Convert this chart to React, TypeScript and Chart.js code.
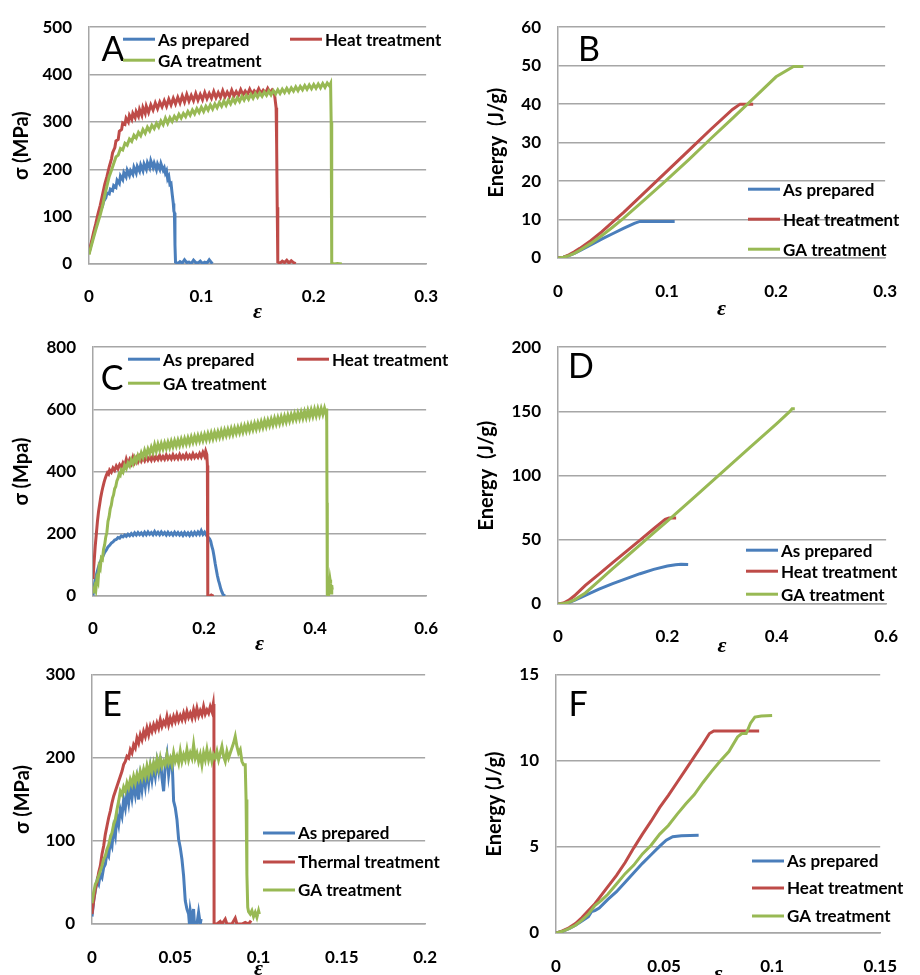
import { useEffect, useRef } from 'react';
import { Chart, registerables } from 'chart.js';
Chart.register(...registerables);

type Pt = [number, number];

const BLUE = '#4a7ebb';
const RED = '#be4b48';
const GREEN = '#98b954';
const GRID = '#a6a6a6';

const labelsABCD = ['As prepared', 'Heat treatment', 'GA treatment'];
const labelsE = ['As prepared', 'Thermal treatment', 'GA treatment'];

// ---------- Panel A : stress (MPa) vs strain ----------
const A_prepared: Pt[] = [
  [0,25],[0.002,42],[0.004,60],[0.006,82],[0.008,95],[0.010,112],[0.012,122],[0.013,132],[0.015,140],[0.016,150],[0.018,148],[0.019,158],[0.021,155],[0.022,166],[0.024,162],[0.025,177],[0.027,170],[0.028,186],[0.030,178],[0.031,193],[0.033,184],[0.034,198],[0.036,187],[0.037,197],[0.039,189],[0.040,204],[0.042,192],[0.043,206],[0.045,196],[0.046,209],[0.048,197],[0.049,211],[0.051,200],[0.052,214],[0.054,203],[0.055,218],[0.057,204],[0.058,213],[0.060,199],[0.061,211],[0.063,200],[0.064,212],[0.066,198],[0.067,203],[0.068,192],[0.069,197],[0.070,180],[0.071,185],[0.072,168],[0.073,170],[0.074,148],[0.075,128],[0.0755,112],[0.076,108],[0.0765,40],[0.077,4],[0.079,1],[0.081,5],[0.083,2],[0.085,9],[0.087,3],[0.089,4],[0.091,1],[0.093,8],[0.095,3],[0.097,2],[0.099,6],[0.101,1],[0.103,4],[0.105,2],[0.107,9],[0.109,3],[0.110,5]
];
const A_heat: Pt[] = [
  [0,22],[0.002,45],[0.004,66],[0.006,85],[0.008,106],[0.010,124],[0.012,146],[0.014,168],[0.016,185],[0.018,205],[0.020,222],[0.021,235],[0.023,246],[0.024,260],[0.026,263],[0.027,280],[0.029,284],[0.030,298],[0.032,295],[0.033,308],[0.035,300],[0.036,314],[0.038,305],[0.039,318],[0.041,309],[0.042,322],[0.044,312],[0.045,326],[0.047,314],[0.048,330],[0.050,318],[0.051,333],[0.053,320],[0.055,336],[0.057,325],[0.059,340],[0.061,328],[0.063,342],[0.065,332],[0.067,345],[0.069,333],[0.071,348],[0.073,336],[0.075,350],[0.077,338],[0.079,352],[0.081,340],[0.083,355],[0.085,342],[0.087,358],[0.089,344],[0.091,356],[0.093,345],[0.095,360],[0.097,346],[0.099,358],[0.101,347],[0.103,362],[0.105,349],[0.107,360],[0.109,350],[0.111,364],[0.113,351],[0.115,362],[0.117,352],[0.119,366],[0.121,353],[0.123,363],[0.125,354],[0.127,367],[0.129,355],[0.131,364],[0.133,356],[0.135,368],[0.137,357],[0.139,365],[0.141,358],[0.143,369],[0.145,359],[0.147,366],[0.149,360],[0.151,370],[0.153,360],[0.155,367],[0.157,361],[0.159,371],[0.161,362],[0.163,368],[0.1645,364],[0.165,360],[0.166,340],[0.1665,330],[0.167,250],[0.1675,120],[0.168,4],[0.170,2],[0.172,6],[0.174,3],[0.176,8],[0.178,2],[0.180,7],[0.182,3],[0.184,1]
];
const A_ga: Pt[] = [
  [0,20],[0.002,38],[0.004,55],[0.006,72],[0.008,88],[0.010,104],[0.012,122],[0.014,145],[0.016,165],[0.018,185],[0.020,198],[0.022,212],[0.024,226],[0.026,230],[0.028,244],[0.030,241],[0.032,255],[0.034,251],[0.036,264],[0.038,259],[0.040,272],[0.042,266],[0.044,278],[0.046,271],[0.048,284],[0.050,276],[0.052,289],[0.054,281],[0.056,293],[0.058,286],[0.060,297],[0.062,289],[0.064,302],[0.066,294],[0.068,308],[0.070,297],[0.072,309],[0.074,301],[0.076,312],[0.078,305],[0.080,316],[0.082,308],[0.084,318],[0.086,311],[0.088,322],[0.090,314],[0.092,325],[0.094,317],[0.096,328],[0.098,320],[0.100,331],[0.102,322],[0.104,333],[0.106,325],[0.108,336],[0.110,327],[0.112,338],[0.114,330],[0.116,341],[0.118,333],[0.120,344],[0.122,335],[0.124,346],[0.126,338],[0.128,349],[0.130,341],[0.132,351],[0.134,343],[0.136,354],[0.138,346],[0.140,356],[0.142,348],[0.144,358],[0.146,350],[0.148,360],[0.150,352],[0.152,361],[0.154,354],[0.156,363],[0.158,356],[0.160,365],[0.162,357],[0.164,366],[0.166,359],[0.168,368],[0.170,360],[0.172,369],[0.174,362],[0.176,371],[0.178,363],[0.180,372],[0.182,365],[0.184,374],[0.186,366],[0.188,375],[0.190,368],[0.192,377],[0.194,369],[0.196,378],[0.198,370],[0.200,379],[0.202,371],[0.204,380],[0.206,372],[0.208,381],[0.210,373],[0.212,382],[0.214,376],[0.215,381],[0.2155,300],[0.216,2],[0.218,0],[0.221,1],[0.225,0]
];

// ---------- Panel B : energy (J/g) vs strain ----------
const B_prepared: Pt[] = [[0,0],[0.005,0.2],[0.010,0.6],[0.015,1.2],[0.020,1.9],[0.030,3.4],[0.040,4.9],[0.050,6.3],[0.060,7.7],[0.070,9.0],[0.075,9.5],[0.090,9.5],[0.107,9.5]];
const B_heat: Pt[] = [[0,0],[0.005,0.2],[0.010,0.8],[0.015,1.6],[0.020,2.5],[0.030,4.5],[0.040,6.8],[0.050,9.3],[0.060,11.8],[0.080,17.2],[0.100,22.6],[0.120,28.0],[0.140,33.4],[0.160,38.6],[0.167,40.0],[0.179,40.0]];
const B_ga: Pt[] = [[0,0],[0.005,0.2],[0.010,0.6],[0.015,1.2],[0.020,2.0],[0.030,3.8],[0.040,5.8],[0.050,8.0],[0.060,10.3],[0.080,15.3],[0.100,20.4],[0.120,25.6],[0.140,31.0],[0.160,36.3],[0.180,41.7],[0.200,47.1],[0.216,49.8],[0.225,49.8]];

// ---------- Panel C : stress (MPa) vs strain ----------
const C_prepared: Pt[] = [
  [0,2],[0.003,40],[0.006,68],[0.009,88],[0.012,105],[0.015,118],[0.018,128],[0.021,140],[0.024,148],[0.027,158],[0.030,163],[0.033,170],[0.036,174],[0.039,180],[0.042,182],[0.045,188],[0.048,186],[0.051,193],[0.054,190],[0.057,196],[0.060,192],[0.063,199],[0.066,194],[0.069,201],[0.072,195],[0.075,203],[0.078,196],[0.081,204],[0.084,197],[0.087,203],[0.090,196],[0.093,205],[0.096,197],[0.099,206],[0.102,198],[0.105,204],[0.108,197],[0.111,207],[0.114,198],[0.117,205],[0.120,197],[0.123,206],[0.126,198],[0.129,204],[0.132,196],[0.135,205],[0.138,197],[0.141,203],[0.144,196],[0.147,205],[0.150,197],[0.153,204],[0.156,196],[0.159,203],[0.162,195],[0.165,204],[0.168,196],[0.171,203],[0.174,195],[0.177,204],[0.180,196],[0.183,205],[0.186,197],[0.189,206],[0.192,198],[0.195,210],[0.198,198],[0.201,205],[0.204,196],[0.207,190],[0.210,184],[0.212,176],[0.214,160],[0.216,148],[0.218,128],[0.220,105],[0.222,85],[0.224,66],[0.226,50],[0.228,38],[0.230,24],[0.232,14],[0.234,6],[0.236,2],[0.238,0]
];
const C_heat: Pt[] = [
  [0,55],[0.002,110],[0.004,160],[0.006,200],[0.008,240],[0.010,272],[0.012,295],[0.014,318],[0.016,336],[0.018,352],[0.020,366],[0.022,378],[0.024,388],[0.026,396],[0.028,392],[0.030,405],[0.033,398],[0.036,412],[0.039,404],[0.042,418],[0.045,409],[0.048,422],[0.051,414],[0.054,428],[0.057,418],[0.060,440],[0.063,424],[0.066,438],[0.069,426],[0.072,446],[0.075,430],[0.078,444],[0.081,432],[0.084,447],[0.087,434],[0.090,445],[0.093,435],[0.096,449],[0.099,437],[0.102,447],[0.105,437],[0.108,451],[0.111,438],[0.114,448],[0.117,439],[0.120,452],[0.123,440],[0.126,449],[0.129,440],[0.132,453],[0.135,441],[0.138,450],[0.141,441],[0.144,454],[0.147,442],[0.150,451],[0.153,442],[0.156,455],[0.159,443],[0.162,452],[0.165,443],[0.168,456],[0.171,444],[0.174,453],[0.177,444],[0.180,457],[0.183,445],[0.186,454],[0.189,446],[0.192,458],[0.195,447],[0.198,462],[0.201,450],[0.203,466],[0.205,455],[0.206,420],[0.2065,200],[0.207,2],[0.210,0],[0.213,3],[0.216,0],[0.218,1]
];
const C_ga: Pt[] = [
  [0,8],[0.003,30],[0.005,18],[0.007,55],[0.009,45],[0.011,95],[0.013,88],[0.015,122],[0.017,118],[0.019,150],[0.021,165],[0.023,190],[0.025,205],[0.027,240],[0.029,255],[0.031,280],[0.033,292],[0.035,315],[0.037,325],[0.039,345],[0.041,352],[0.043,370],[0.045,378],[0.047,392],[0.049,388],[0.051,405],[0.054,398],[0.057,420],[0.060,410],[0.063,428],[0.066,418],[0.069,438],[0.072,425],[0.075,445],[0.078,432],[0.081,452],[0.084,440],[0.087,460],[0.090,446],[0.093,468],[0.096,452],[0.099,472],[0.102,458],[0.105,478],[0.108,462],[0.111,486],[0.114,466],[0.117,488],[0.120,470],[0.123,490],[0.126,473],[0.129,492],[0.132,475],[0.135,494],[0.138,477],[0.141,497],[0.144,480],[0.147,499],[0.150,482],[0.153,501],[0.156,484],[0.159,504],[0.162,487],[0.165,506],[0.168,489],[0.171,508],[0.174,491],[0.177,511],[0.180,494],[0.183,513],[0.186,496],[0.189,515],[0.192,498],[0.195,517],[0.198,500],[0.201,519],[0.204,502],[0.207,522],[0.210,504],[0.213,524],[0.216,506],[0.219,526],[0.222,509],[0.225,528],[0.228,511],[0.231,531],[0.234,513],[0.237,533],[0.240,516],[0.243,535],[0.246,518],[0.249,538],[0.252,520],[0.255,540],[0.258,523],[0.261,542],[0.264,525],[0.267,545],[0.270,527],[0.273,547],[0.276,530],[0.279,550],[0.282,532],[0.285,552],[0.288,535],[0.291,555],[0.294,537],[0.297,557],[0.300,540],[0.303,560],[0.306,542],[0.309,563],[0.312,545],[0.315,565],[0.318,548],[0.321,568],[0.324,550],[0.327,571],[0.330,553],[0.333,573],[0.336,555],[0.339,576],[0.342,558],[0.345,578],[0.348,560],[0.351,581],[0.354,563],[0.357,583],[0.360,566],[0.363,586],[0.366,568],[0.369,588],[0.372,570],[0.375,591],[0.378,572],[0.381,593],[0.384,574],[0.387,596],[0.390,576],[0.393,598],[0.396,578],[0.399,600],[0.402,580],[0.405,602],[0.408,582],[0.411,603],[0.414,584],[0.417,604],[0.419,590],[0.420,603],[0.421,560],[0.4215,300],[0.422,5],[0.424,0],[0.426,30],[0.427,52],[0.428,40],[0.429,10],[0.430,35],[0.431,20]
];

// ---------- Panel D : energy (J/g) vs strain ----------
const D_prepared: Pt[] = [[0,0],[0.01,0.3],[0.02,1.2],[0.03,2.8],[0.05,6.8],[0.075,11.5],[0.10,15.8],[0.125,19.8],[0.15,23.6],[0.175,27.0],[0.20,29.6],[0.215,30.6],[0.225,31.0],[0.238,30.8]];
const D_heat: Pt[] = [[0,0],[0.01,0.8],[0.02,3.0],[0.03,6.4],[0.05,14.5],[0.075,23.3],[0.10,32.2],[0.125,41.0],[0.15,49.8],[0.175,58.6],[0.196,66.0],[0.203,67.0],[0.216,67.0]];
const D_ga: Pt[] = [[0,0],[0.01,0.4],[0.02,1.4],[0.03,3.2],[0.05,8.6],[0.075,18.0],[0.10,27.5],[0.125,36.8],[0.15,46.0],[0.175,55.3],[0.20,64.6],[0.25,83.5],[0.30,102.5],[0.35,121.5],[0.40,140.5],[0.424,150],[0.428,152],[0.433,152]];

// ---------- Panel E : stress (MPa) vs strain ----------
const E_prepared: Pt[] = [
  [0,9],[0.001,28],[0.002,40],[0.003,52],[0.004,48],[0.005,60],[0.006,56],[0.007,68],[0.008,72],[0.009,86],[0.010,82],[0.011,100],[0.012,94],[0.013,115],[0.014,106],[0.015,130],[0.016,120],[0.017,138],[0.018,130],[0.019,150],[0.020,140],[0.021,158],[0.022,146],[0.023,165],[0.024,152],[0.025,168],[0.026,156],[0.027,172],[0.028,150],[0.029,176],[0.030,162],[0.031,180],[0.032,166],[0.033,184],[0.034,170],[0.035,188],[0.036,174],[0.037,190],[0.038,178],[0.039,196],[0.040,184],[0.041,202],[0.042,176],[0.043,160],[0.044,192],[0.045,204],[0.046,180],[0.047,196],[0.048,200],[0.0485,176],[0.049,148],[0.050,140],[0.051,126],[0.052,102],[0.053,92],[0.054,78],[0.055,58],[0.056,28],[0.057,18],[0.058,12],[0.0585,0],[0.059,16],[0.060,4],[0.061,18],[0.0615,0],[0.063,0],[0.064,14],[0.065,0],[0.0655,6]
];
const E_thermal: Pt[] = [
  [0,12],[0.001,28],[0.002,42],[0.003,50],[0.004,62],[0.005,70],[0.006,84],[0.007,94],[0.008,108],[0.009,118],[0.010,128],[0.011,136],[0.012,146],[0.013,154],[0.014,160],[0.015,166],[0.016,172],[0.017,178],[0.018,184],[0.019,192],[0.020,196],[0.021,202],[0.022,200],[0.023,210],[0.024,206],[0.025,216],[0.026,212],[0.027,224],[0.028,218],[0.029,228],[0.030,222],[0.031,232],[0.032,226],[0.033,236],[0.034,228],[0.035,238],[0.036,232],[0.037,240],[0.038,234],[0.039,242],[0.040,236],[0.041,246],[0.042,238],[0.043,244],[0.044,240],[0.045,250],[0.046,240],[0.047,248],[0.048,242],[0.049,250],[0.050,244],[0.051,252],[0.052,245],[0.053,251],[0.054,246],[0.055,254],[0.056,247],[0.057,256],[0.058,249],[0.059,254],[0.060,248],[0.061,258],[0.062,250],[0.063,260],[0.064,251],[0.065,257],[0.066,252],[0.067,262],[0.068,253],[0.069,258],[0.070,254],[0.071,262],[0.072,256],[0.0728,265],[0.0732,250],[0.0733,0],[0.075,0],[0.077,3],[0.078,0],[0.080,6],[0.081,0],[0.084,0],[0.086,7],[0.087,0],[0.090,0],[0.092,2],[0.094,0],[0.0955,4]
];
const E_ga: Pt[] = [
  [0,25],[0.001,38],[0.002,48],[0.003,52],[0.004,58],[0.005,64],[0.006,70],[0.007,78],[0.008,82],[0.009,90],[0.010,95],[0.011,104],[0.012,110],[0.013,120],[0.014,126],[0.015,138],[0.016,148],[0.017,160],[0.018,156],[0.019,165],[0.020,160],[0.021,170],[0.022,164],[0.023,174],[0.024,168],[0.025,178],[0.026,170],[0.027,180],[0.028,174],[0.029,184],[0.030,176],[0.031,186],[0.032,178],[0.033,190],[0.034,180],[0.035,192],[0.036,184],[0.037,194],[0.038,186],[0.039,198],[0.040,188],[0.041,200],[0.042,190],[0.043,196],[0.044,192],[0.045,204],[0.046,194],[0.047,200],[0.048,192],[0.049,206],[0.050,196],[0.051,202],[0.052,194],[0.053,208],[0.054,196],[0.055,204],[0.056,198],[0.057,210],[0.058,198],[0.059,206],[0.060,200],[0.061,216],[0.062,200],[0.063,206],[0.064,196],[0.065,204],[0.066,192],[0.067,206],[0.068,198],[0.069,210],[0.070,198],[0.071,206],[0.072,196],[0.073,204],[0.074,200],[0.075,208],[0.076,198],[0.077,206],[0.078,214],[0.079,202],[0.080,196],[0.081,208],[0.082,200],[0.083,206],[0.084,212],[0.085,218],[0.086,226],[0.087,214],[0.088,206],[0.089,210],[0.090,196],[0.091,192],[0.092,192],[0.0925,150],[0.093,60],[0.0935,20],[0.094,15],[0.095,12],[0.096,16],[0.097,9],[0.098,14],[0.099,8],[0.100,16],[0.1005,12]
];

// ---------- Panel F : energy (J/g) vs strain ----------
const F_prepared: Pt[] = [[0,0],[0.003,0.1],[0.006,0.25],[0.009,0.45],[0.012,0.7],[0.015,0.95],[0.0165,1.25],[0.018,1.3],[0.020,1.45],[0.024,1.95],[0.028,2.4],[0.032,2.95],[0.036,3.5],[0.040,4.05],[0.044,4.55],[0.048,5.05],[0.051,5.4],[0.054,5.6],[0.058,5.65],[0.066,5.68]];
const F_heat: Pt[] = [[0,0],[0.003,0.12],[0.006,0.3],[0.009,0.55],[0.012,0.9],[0.015,1.3],[0.018,1.7],[0.021,2.2],[0.024,2.7],[0.028,3.35],[0.032,4.1],[0.036,4.95],[0.040,5.75],[0.044,6.5],[0.048,7.3],[0.052,8.0],[0.056,8.75],[0.060,9.5],[0.064,10.25],[0.068,11.0],[0.071,11.6],[0.073,11.75],[0.080,11.75],[0.094,11.75]];
const F_ga: Pt[] = [[0,0],[0.003,0.1],[0.006,0.25],[0.009,0.45],[0.012,0.75],[0.015,1.1],[0.018,1.6],[0.021,1.9],[0.024,2.25],[0.028,2.85],[0.032,3.45],[0.036,3.95],[0.040,4.6],[0.044,5.1],[0.048,5.75],[0.052,6.25],[0.056,6.9],[0.060,7.5],[0.064,8.05],[0.068,8.75],[0.072,9.4],[0.076,10.0],[0.080,10.55],[0.084,11.4],[0.086,11.6],[0.088,11.6],[0.090,12.2],[0.092,12.55],[0.095,12.62],[0.100,12.65]];

// ---------- layout of the six panels (positions only) ----------
interface Panel {
  letter: string;
  L: number; T: number; W: number; H: number;
  yw: number; pr: number; pt: number; xh: number;
  xMax: number; xStep: number; yMax: number; yStep: number;
  yTitle: string; yTitlePad: number; xTitlePad: number; xTickPad: number;
  letterPos: [number, number];
  legendPos: [number, number][];
  labels: string[];
  series: Pt[][];
}

const panels: Panel[] = [
  { letter: 'A', L: 0, T: 0, W: 460, H: 330, yw: 89, pr: 23, pt: 20, xh: 66, xMax: 0.3, xStep: 0.1, yMax: 500, yStep: 100,
    yTitle: 'σ (MPa)', yTitlePad: 10, xTitlePad: 4, xTickPad: 22, letterPos: [24, 22], legendPos: [[34, 12], [201, 12], [34, 33]],
    labels: labelsABCD, series: [A_prepared, A_heat, A_ga] },
  { letter: 'B', L: 460, T: 0, W: 460, H: 330, yw: 98, pr: 14, pt: 20, xh: 72, xMax: 0.3, xStep: 0.1, yMax: 60, yStep: 10,
    yTitle: 'Energy  (J/g)', yTitlePad: 25, xTitlePad: 7, xTickPad: 23, letterPos: [31, 22], legendPos: [[190, 162], [190, 192], [190, 222]],
    labels: labelsABCD, series: [B_prepared, B_heat, B_ga] },
  { letter: 'C', L: 0, T: 320, W: 460, H: 340, yw: 93, pr: 23, pt: 24, xh: 64, xMax: 0.6, xStep: 0.2, yMax: 800, yStep: 200,
    yTitle: 'σ (Mpa)', yTitlePad: 10, xTitlePad: 2, xTickPad: 22, letterPos: [19, 31], legendPos: [[35, 12], [204, 12], [35, 36]],
    labels: labelsABCD, series: [C_prepared, C_heat, C_ga] },
  { letter: 'D', L: 460, T: 320, W: 460, H: 340, yw: 98, pr: 17, pt: 24, xh: 56, xMax: 0.6, xStep: 0.2, yMax: 200, yStep: 50,
    yTitle: 'Energy  (J/g)', yTitlePad: 15, xTitlePad: 0, xTickPad: 22, letterPos: [23, 19], legendPos: [[188, 203], [188, 224], [188, 247]],
    labels: labelsABCD, series: [D_prepared, D_heat, D_ga] },
  { letter: 'E', L: 0, T: 640, W: 460, H: 350, yw: 92, pr: 24, pt: 35, xh: 66, xMax: 0.2, xStep: 0.05, yMax: 300, yStep: 100,
    yTitle: 'σ (MPa)', yTitlePad: 11, xTitlePad: 7, xTickPad: 23, letterPos: [20, 29], legendPos: [[171, 158], [171, 187], [171, 215]],
    labels: labelsE, series: [E_prepared, E_thermal, E_ga] },
  { letter: 'F', L: 460, T: 640, W: 460, H: 350, yw: 96, pr: 22, pt: 35, xh: 57, xMax: 0.15, xStep: 0.05, yMax: 15, yStep: 5,
    yTitle: 'Energy (J/g)', yTitlePad: 23, xTitlePad: 2, xTickPad: 23, letterPos: [22, 29], legendPos: [[196, 186], [196, 213], [196, 241]],
    labels: labelsABCD, series: [F_prepared, F_heat, F_ga] },
];

const COLORS = [BLUE, RED, GREEN];
const SANS = 'Lato, "DejaVu Sans", sans-serif';

function decorPlugin(p: Panel) {
  return {
    id: 'panelDecor' + p.letter,
    afterDatasetsDraw(chart: any) {
      const { ctx, chartArea } = chart;
      ctx.save();
      // panel letter
      ctx.fillStyle = '#000';
      ctx.font = `400 34px ${SANS}`;
      ctx.textAlign = 'center';
      ctx.textBaseline = 'alphabetic';
      ctx.fillText(p.letter, chartArea.left + p.letterPos[0], chartArea.top + p.letterPos[1] + 12);
      // legend
      ctx.font = `700 17px ${SANS}`;
      ctx.textAlign = 'left';
      ctx.textBaseline = 'middle';
      chart.data.datasets.forEach((ds: any, i: number) => {
        const [lx, ly] = p.legendPos[i];
        const x = chartArea.left + lx;
        const y = chartArea.top + ly;
        ctx.strokeStyle = ds.borderColor;
        ctx.lineWidth = 3;
        ctx.beginPath();
        ctx.moveTo(x, y);
        ctx.lineTo(x + 32, y);
        ctx.stroke();
        ctx.fillStyle = '#000';
        ctx.fillText(ds.label, x + 35, y + 1);
      });
      ctx.restore();
    },
  };
}

function fmt(v: number) {
  return String(Math.round(v * 1000) / 1000);
}

function PanelChart({ p }: { p: Panel }) {
  const ref = useRef<HTMLCanvasElement | null>(null);
  useEffect(() => {
    if (!ref.current) return;
    const chart = new Chart(ref.current, {
      type: 'line',
      data: {
        datasets: p.series.map((pts, i) => ({
          label: p.labels[i],
          data: pts.map(([x, y]) => ({ x, y })),
          borderColor: COLORS[i],
          backgroundColor: COLORS[i],
          borderWidth: 3,
          pointRadius: 0,
          tension: 0,
          fill: false,
          order: 3 - i,
        })),
      },
      options: {
        responsive: false,
        animation: false,
        devicePixelRatio: 1,
        layout: { padding: { left: 0, top: p.pt, right: p.pr, bottom: 0 } },
        plugins: { legend: { display: false }, tooltip: { enabled: false }, title: { display: false } },
        scales: {
          x: {
            type: 'linear',
            min: 0,
            max: p.xMax,
            ticks: { stepSize: p.xStep, color: '#000', font: { family: SANS, size: 17, weight: 'bold' }, padding: p.xTickPad, maxRotation: 0, autoSkip: false, callback: (v: any) => fmt(Number(v)) },
            grid: { display: false, drawTicks: false },
            border: { display: true, color: GRID, width: 1.5 },
            title: { display: true, text: 'ε', color: '#000', font: { family: '"Liberation Serif", "DejaVu Serif", serif', size: 22, style: 'italic', weight: 'bold' }, padding: { top: 0, bottom: p.xTitlePad } },
            afterFit: (s: any) => { s.height = p.xh; },
          },
          y: {
            type: 'linear',
            min: 0,
            max: p.yMax,
            ticks: { stepSize: p.yStep, color: '#000', font: { family: SANS, size: 17, weight: 'bold' }, padding: 17, callback: (v: any) => fmt(Number(v)) },
            grid: { color: GRID, lineWidth: 1.5, drawTicks: false },
            border: { display: true, color: GRID, width: 1.5 },
            title: { display: true, text: p.yTitle, color: '#000', font: { family: SANS, size: 20, weight: 'bold' }, padding: { top: p.yTitlePad, bottom: 0 } },
            afterFit: (s: any) => { s.width = p.yw; },
          },
        },
      } as any,
      plugins: [decorPlugin(p)],
    } as any);
    return () => chart.destroy();
  }, [p]);
  return (
    <canvas
      ref={ref}
      width={p.W}
      height={p.H}
      style={{ position: 'absolute', left: p.L, top: p.T, width: p.W, height: p.H }}
    />
  );
}

export default function App() {
  return (
    <div style={{ position: 'fixed', left: 0, top: 0, width: 920, height: 975, overflow: 'hidden', background: '#fff' }}>
      {panels.map((p) => (
        <PanelChart key={p.letter} p={p} />
      ))}
    </div>
  );
}
